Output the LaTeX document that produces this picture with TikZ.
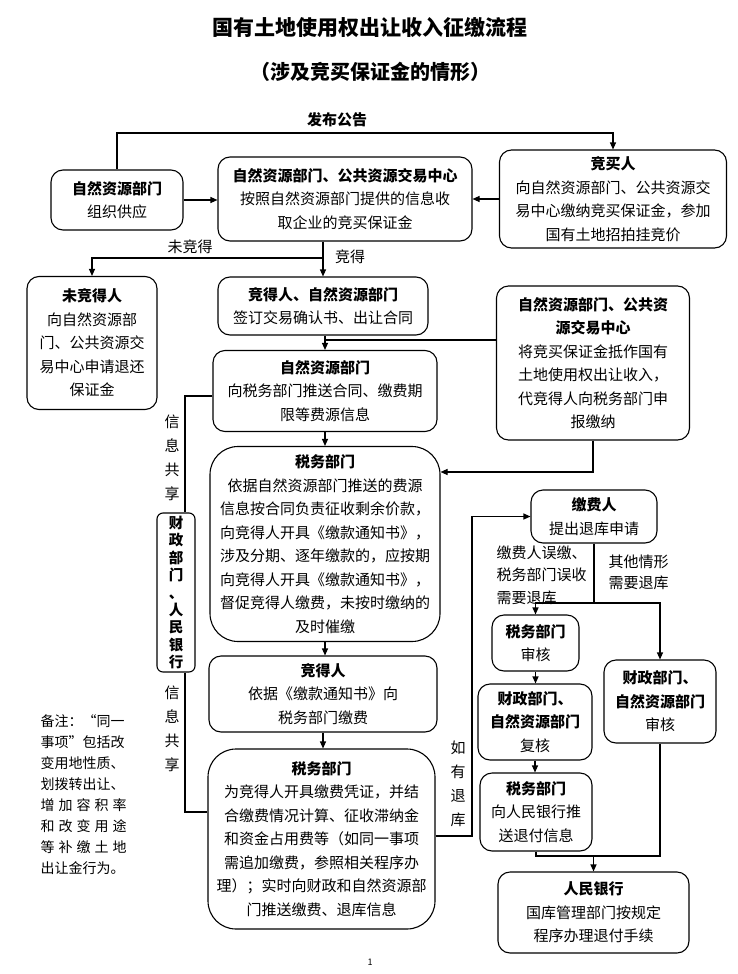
\documentclass[tikz,border=0pt]{standalone}
\usepackage{fontspec}
\setmainfont{Noto Sans CJK SC}
\usetikzlibrary{arrows.meta,positioning}
\newcommand{\spreadline}[1]{\makebox[86pt][s]{#1}}
\newcommand{\tightlines}{\lineskiplimit=-20pt\relax\lineskip=0pt\relax}

\begin{document}
\begin{tikzpicture}[x=1pt,y=-1pt,line width=1.1pt,
    box/.style={draw, rounded corners=12pt, align=center, inner sep=0pt, font=\fontsize{15}{23.5}\selectfont},
    bigbox/.style={box, rounded corners=28pt},
    lbl/.style={align=center, inner sep=0pt, font=\fontsize{15}{24}\selectfont},
    arr/.style={-{Triangle[length=7pt,width=6pt]}}]
    \useasboundingbox (0,0) rectangle (737,974);

    \node[font=\fontsize{21}{21}\selectfont\bfseries] (title) at (370,28) {国有土地使用权出让收入征缴流程};
    \node[font=\fontsize{20}{20}\selectfont\bfseries] (subtitle) at (370,72) {（涉及竞买保证金的情形）};
    \node[lbl, font={\fontsize{15}{24}\selectfont\bfseries}] (notice) at (337,120) {发布公告};

    \node[box, minimum width=132pt, minimum height=60pt] (supply) at (117,200) {\textbf{自然资源部门}\\组织供应};
    \node[box, minimum width=254pt, minimum height=84pt] (collect) at (345,199) {\textbf{自然资源部门、公共资源交易中心}\\按照自然资源部门提供的信息收\\取企业的竞买保证金};
    \node[box, minimum width=227pt, minimum height=98pt] (bidder) at (613,199) {\textbf{竞买人}\\向自然资源部门、公共资源交\\易中心缴纳竞买保证金，参加\\国有土地招拍挂竞价};
    \node[box, minimum width=130pt, minimum height=133pt] (loser) at (92,343) {\textbf{未竞得人}\\向自然资源部\\门、公共资源交\\易中心申请退还\\保证金};
    \node[box, minimum width=210pt, minimum height=58pt] (winner) at (323,306) {\textbf{竞得人、自然资源部门}\\签订交易确认书、出让合同};
    \node[box, minimum width=224pt, minimum height=81pt] (push) at (325,391) {\textbf{自然资源部门}\\向税务部门推送合同、缴费期\\限等费源信息};
    \node[box, minimum width=193pt, minimum height=154pt] (offset) at (593,363) {\textbf{自然资源部门、公共资}\\\textbf{源交易中心}\\将竞买保证金抵作国有\\土地使用权出让收入，\\代竞得人向税务部门申\\报缴纳};
    \node[bigbox, minimum width=230pt, minimum height=195pt] (levy) at (325,544) {\textbf{税务部门}\\依据自然资源部门推送的费源\\信息按合同负责征收剩余价款，\\向竞得人开具《缴款通知书》，\\涉及分期、逐年缴款的，应按期\\向竞得人开具《缴款通知书》，\\督促竞得人缴费，未按时缴纳的\\及时催缴};
    \node[box, minimum width=228pt, minimum height=76pt] (pay) at (323,694) {\textbf{竞得人}\\依据《缴款通知书》向\\税务部门缴费};
    \node[bigbox, minimum width=227pt, minimum height=180pt] (receipt) at (321.5,839) {\textbf{税务部门}\\为竞得人开具缴费凭证，并结\\合缴费情况计算、征收滞纳金\\和资金占用费等（如同一事项\\需追加缴费，参照相关程序办\\理）；实时向财政和自然资源部\\门推送缴费、退库信息};
    \node[box, rounded corners=6pt, minimum width=38pt, minimum height=159pt, font={\fontsize{14.5}{17.4}\selectfont\bfseries\tightlines}] (share) at (176,592.5) {财\\政\\部\\门\\、\\人\\民\\银\\行};

    \node[box, minimum width=126pt, minimum height=53pt] (payer) at (594,516.5) {\textbf{缴费人}\\提出退库申请};
    \node[box, minimum width=87pt, minimum height=56pt] (audit) at (535.5,643) {\textbf{税务部门}\\审核};
    \node[box, minimum width=114pt, minimum height=76pt] (review) at (535,722) {\textbf{财政部门、}\\\textbf{自然资源部门}\\复核};
    \node[box, minimum width=112pt, minimum height=78pt] (notify) at (536,812) {\textbf{税务部门}\\向人民银行推\\送退付信息};
    \node[box, minimum width=112pt, minimum height=83pt] (check) at (660,701.5) {\textbf{财政部门、}\\\textbf{自然资源部门}\\审核};
    \node[box, minimum width=191pt, minimum height=81pt] (bank) at (593.5,912.5) {\textbf{人民银行}\\国库管理部门按规定\\程序办理退付手续};

    \node[lbl] (lost) at (190,247) {未竞得};
    \node[lbl] (won) at (350,257) {竞得};
    \node[lbl] (share1) at (172,458) {信\\息\\共\\享};
    \node[lbl] (share2) at (172,729) {信\\息\\共\\享};
    \node[lbl] (refundlbl) at (458,784) {如\\有\\退\\库};
    \node[lbl, anchor=west, align=left, font=\fontsize{15}{22.5}\selectfont] (mistake) at (496,575) {缴费人误缴、\\税务部门误收\\需要退库};
    \node[lbl, anchor=west, align=left, font=\fontsize{15}{21}\selectfont] (other) at (608,572) {其他情形\\需要退库};
    \node[lbl, anchor=west, align=left, font=\fontsize{14}{21}\selectfont] (remark) at (40,795) {备注：“同一\\事项”包括改\\变用地性质、\\划拨转出让、\\\spreadline{增\hfil 加\hfil 容\hfil 积\hfil 率}\\\spreadline{和\hfil 改\hfil 变\hfil 用\hfil 途}\\\spreadline{等\hfil 补\hfil 缴\hfil 土\hfil 地}\\出让金行为。};
    \node[font=\fontsize{9}{9}\selectfont] (page) at (370,962) {1};

    \coordinate (shareline) at (185,0);
    \coordinate (refund) at (472,0);
    \coordinate (split) at (payer.south |- 0,603);

    \draw[arr] (supply.north) |- (bidder.north |- 0,133) -- (bidder.north);
    \draw[arr] (supply.east) -- (supply.east -| collect.west);
    \draw[arr] (bidder.west) -- (bidder.west -| collect.east);
    \draw[arr] (collect.south -| winner.north) -- (winner.north);
    \draw[arr] (winner.north |- 0,258) -| (loser.north);
    \draw[arr] (winner.south -| push.north) -- (push.north);
    \draw (push.north |- 0,340) -- (offset.west |- 0,340);
    \draw[arr] (offset.south) |- (levy.east |- 0,472);
    \draw[arr] (push.south) -- (levy.north);
    \draw[arr] (levy.south) -- (levy.south |- pay.north);
    \draw[arr] (pay.south) -- (pay.south |- receipt.north);
    \draw (push.west |- 0,396) -| (share.north -| shareline);
    \draw (share.south -| shareline) |- (receipt.west |- 0,812);
    \draw[arr] (receipt.east |- 0,836) -| (refund |- payer.west) -- (payer.west);
    \draw (payer.south) -- (split);
    \draw[arr] (split) -| (audit.north);
    \draw[arr] (split) -| (check.north);
    \draw[arr] (audit.south) -- (audit.south |- review.north);
    \draw[arr] (review.south) -- (review.south |- notify.north);
    \draw (notify.south) |- (check.south |- 0,856) -- (check.south);
    \draw[arr] (bank.north |- 0,856) -- (bank.north);
\end{tikzpicture}
\end{document}
